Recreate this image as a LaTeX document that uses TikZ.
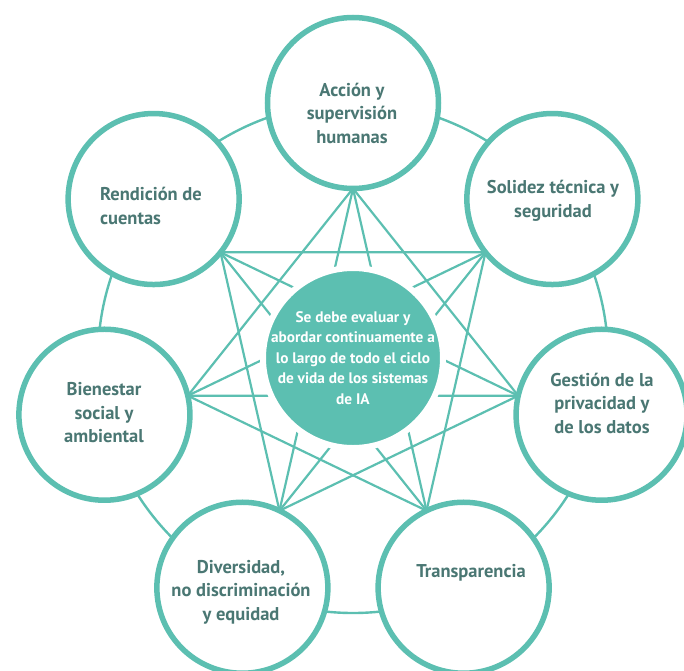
\documentclass[tikz,border=0pt]{standalone}
\usepackage{fontspec}
\setmainfont{PT Sans}
\definecolor{teal1}{HTML}{5CBFB1}
\definecolor{labeltext}{HTML}{4A7773}
\begin{document}
\begin{tikzpicture}[x=1pt,y=1pt,
  ring/.style={draw=teal1, line width=2.4pt},
  link/.style={draw=teal1, line width=2.2pt},
  pillar/.style={circle, draw=teal1, fill=white, line width=5.5pt, minimum size=171pt, inner sep=0pt},
  core/.style={circle, fill=teal1, draw=white, line width=6pt, minimum size=180pt, inner sep=0pt},
  lbl/.style={font=\fontsize{18.5}{23.5}\selectfont\bfseries, text=labeltext, align=center, inner sep=0pt},
  corelbl/.style={font=\fontsize{15.3}{20.5}\selectfont\bfseries, text=white, align=center, inner sep=0pt}]
\useasboundingbox (-353,-312) rectangle (331,358);
% ring through the seven pillar centres
\draw[ring] (0,0) circle (255);
% inner contact point of every pillar
\foreach \i in {0,...,6}{
  \pgfmathsetmacro\a{90+\i*360/7}
  \coordinate (c\i) at (\a:169.5);
}
% links between all non-neighbouring pillars
\foreach \i in {0,...,6}{
  \pgfmathtruncatemacro\j{mod(\i+2,7)}
  \pgfmathtruncatemacro\k{mod(\i+3,7)}
  \draw[link] (c\i) -- (c\j);
  \draw[link] (c\i) -- (c\k);
}
% pillars
\foreach \i in {0,...,6}{
  \pgfmathsetmacro\a{90+\i*360/7}
  \node[pillar] (p\i) at (\a:255) {};
}
% central statement
\node[core] (core) at (0,0) {};
\node[corelbl] (coretext) at (0,0) {Se debe evaluar y\\abordar continuamente a\\lo largo de todo el ciclo\\de vida de los sistemas\\de IA};
% pillar labels
\node[lbl] (t0) at (-1,245) {Acción y\\supervisión\\humanas};
\node[lbl, align=left] (t1) at (-202,152) {Rendición de\\cuentas};
\node[lbl] (t2) at (-249,-55) {Bienestar\\social y\\ambiental};
\node[lbl] (t3) at (-112,-234) {Diversidad,\\no discriminación\\y equidad};
\node[lbl] (t4) at (118,-215) {Transparencia};
\node[lbl] (t5) at (249,-45) {Gestión de la\\privacidad y\\de los datos};
\node[lbl] (t6) at (200,157) {Solidez técnica y\\seguridad};
\end{tikzpicture}
\end{document}
